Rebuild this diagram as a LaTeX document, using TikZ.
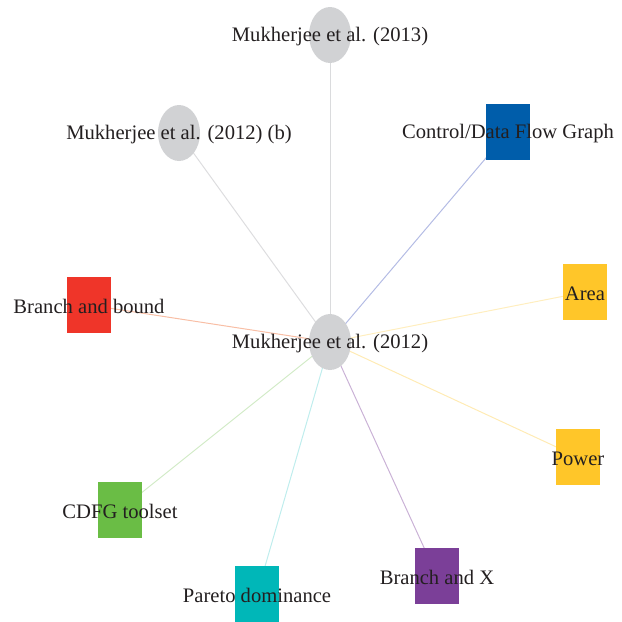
\documentclass[tikz,border=0pt]{standalone}
\usepackage{fontspec}
\setmainfont{Liberation Serif}
\usetikzlibrary{shapes.geometric,backgrounds}
\definecolor{pubgray}{HTML}{D1D2D4}
\definecolor{cdfgblue}{HTML}{005DAA}
\definecolor{bbred}{HTML}{EF3529}
\definecolor{metricyellow}{HTML}{FFC629}
\definecolor{toolgreen}{HTML}{6ABD45}
\definecolor{paretoteal}{HTML}{00B7B8}
\definecolor{bxpurple}{HTML}{7B3F98}
\definecolor{labelink}{HTML}{231F20}
\definecolor{cdfglink}{HTML}{B4BCE4}
\definecolor{bblink}{HTML}{F8BEA5}
\tikzset{
  x=1pt, y=-1pt,
  pub/.style={ellipse, fill=pubgray, minimum width=42pt, minimum height=56pt, inner sep=0pt},
  concept/.style={rectangle, fill=#1, minimum width=44pt, minimum height=56pt, inner sep=0pt},
  lbl/.style={text=labelink, font=\fontsize{20.6}{22}\selectfont, inner sep=0pt, yshift=-1.5pt},
  link/.style={draw=#1, line width=1pt}
}
\begin{document}
\begin{tikzpicture}
\useasboundingbox (0,0) rectangle (622,622);
% publication nodes
\node[pub] (p12) at (330,342) {};
\node[pub] (p13) at (330,35) {};
\node[pub] (p12b) at (179,133) {};
% concept nodes
\node[concept=cdfgblue] (cdfg) at (508,132) {};
\node[concept=metricyellow] (area) at (585,292) {};
\node[concept=metricyellow] (power) at (578,457) {};
\node[concept=bxpurple] (bx) at (437,576) {};
\node[concept=paretoteal] (pareto) at (257,594) {};
\node[concept=toolgreen] (tool) at (120,510) {};
\node[concept=bbred] (bb) at (89,305) {};
% connectors behind the nodes
\begin{pgfonlayer}{background}
\draw[link=pubgray!80] (p12.center) -- (p13.center);
\draw[link=pubgray!75] (p12.center) -- (p12b.center);
\draw[link=cdfglink] (p12.center) -- (cdfg.center);
\draw[link=metricyellow!30] (p12.center) -- (area.center);
\draw[link=metricyellow!35] (p12.center) -- (power.center);
\draw[link=bxpurple!40] (p12.center) -- (bx.center);
\draw[link=paretoteal!25] (p12.center) -- (pareto.center);
\draw[link=toolgreen!30] (p12.center) -- (tool.center);
\draw[link=bblink] (p12.center) -- (bb.center);
\end{pgfonlayer}
% labels on top
\node[lbl] (t12) at (p12.center) {Mukherjee et al. (2012)};
\node[lbl] (t13) at (p13.center) {Mukherjee et al. (2013)};
\node[lbl] (t12b) at (p12b.center) {Mukherjee et al. (2012) (b)};
\node[lbl] (tcdfg) at (cdfg.center) {Control/Data Flow Graph};
\node[lbl] (tarea) at (area.center) {Area};
\node[lbl] (tpower) at (power.center) {Power};
\node[lbl] (tbx) at (bx.center) {Branch and X};
\node[lbl] (tpareto) at (pareto.center) {Pareto dominance};
\node[lbl] (ttool) at (tool.center) {CDFG toolset};
\node[lbl] (tbb) at (bb.center) {Branch and bound};
\end{tikzpicture}
\end{document}
